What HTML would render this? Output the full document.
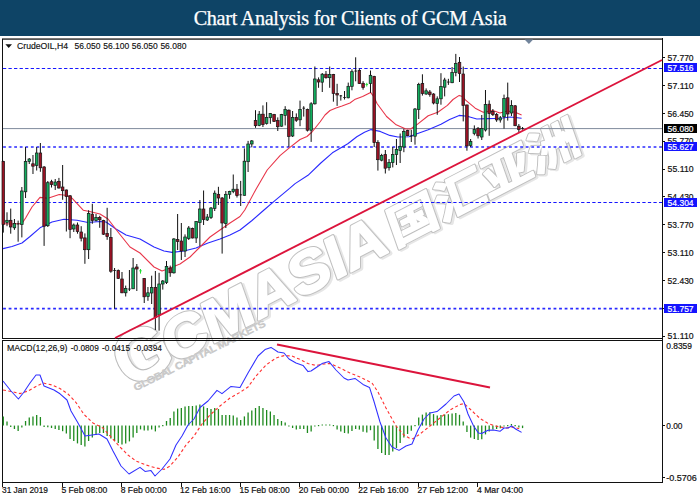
<!DOCTYPE html>
<html><head><meta charset="utf-8"><title>Chart Analysis for Clients of GCM Asia</title>
<style>
html,body{margin:0;padding:0;background:#fff;}
body{width:700px;height:500px;overflow:hidden;position:relative;font-family:"Liberation Sans","Noto Sans CJK SC",sans-serif;}
#hdr{position:absolute;left:0;top:0;width:700px;height:36.4px;background:#0e4466;color:#fff;font-family:"Liberation Serif",serif;font-size:20.2px;text-align:center;line-height:36px;letter-spacing:-0.3px;}
#hdr span{display:inline-block;position:relative;top:0px;-webkit-text-stroke:0.25px #fff;}
svg{position:absolute;left:0;top:0;}
.ax{font-family:"Liberation Sans",sans-serif;font-size:9px;fill:#111;stroke:#111;stroke-width:0.2px;}
.lb{font-family:"Liberation Sans",sans-serif;font-size:9px;fill:#fff;stroke:#fff;stroke-width:0.2px;}
.tt{font-family:"Liberation Sans",sans-serif;font-size:9px;fill:#111;stroke:#111;stroke-width:0.15px;}
</style></head><body>
<div id="hdr"><span>Chart Analysis for Clients of GCM Asia</span></div>
<svg width="700" height="500" viewBox="0 0 700 500">
<!-- watermark -->
<g id="wm" transform="translate(119,392) rotate(-27.4)" stroke-linejoin="round" font-family="'Liberation Sans','Noto Sans CJK SC',sans-serif" font-weight="bold">
<text x="11.8" y="3.5" font-size="72" fill="none" stroke="#e6e6e6" stroke-width="3.4" textLength="56" lengthAdjust="spacingAndGlyphs">G</text>
<text x="10" y="1.5" font-size="72" fill="none" stroke="#bcbcbc" stroke-width="3.4" textLength="56" lengthAdjust="spacingAndGlyphs">G</text>
<text x="10" y="1.5" font-size="72" fill="#fff" stroke="#fff" stroke-width="1.2" textLength="56" lengthAdjust="spacingAndGlyphs">G</text>
<g transform="skewX(-8)">
<g transform="translate(1.8,2)">
<text x="59" y="0" font-size="58" fill="none" stroke="#e6e6e6" stroke-width="3.8" textLength="246" lengthAdjust="spacingAndGlyphs">CMASIA</text>
<text x="311" y="-2" font-size="45" fill="none" stroke="#e6e6e6" stroke-width="3.2" textLength="212" lengthAdjust="spacingAndGlyphs">国汇亚洲</text>
</g>
<text x="59" y="0" font-size="58" fill="none" stroke="#c0c0c0" stroke-width="3.8" textLength="246" lengthAdjust="spacingAndGlyphs">CMASIA</text>
<text x="59" y="0" font-size="58" fill="#fff" stroke="#fff" stroke-width="1.8" textLength="246" lengthAdjust="spacingAndGlyphs">CMASIA</text>
<text x="311" y="-2" font-size="45" fill="none" stroke="#c0c0c0" stroke-width="3.2" textLength="212" lengthAdjust="spacingAndGlyphs">国汇亚洲</text>
<text x="311" y="-2" font-size="45" fill="#fff" stroke="#fff" stroke-width="1.4" textLength="212" lengthAdjust="spacingAndGlyphs">国汇亚洲</text>
</g>
</g>
<g transform="translate(135.8,391) rotate(-26.6)" font-family="'Liberation Sans',sans-serif">
<text x="0" y="0" font-size="9.6" stroke="#c9c9c9" stroke-width="0.8" fill="#f2f2f2" textLength="146" lengthAdjust="spacingAndGlyphs">GLOBAL CAPITAL MARKETS</text>
</g>
<!-- frames -->
<g shape-rendering="crispEdges" stroke="#111" stroke-width="1" fill="none">
<line x1="2.5" y1="38" x2="2.5" y2="338"/>
<line x1="2" y1="38.5" x2="663" y2="38.5" stroke="#777"/><line x1="3" y1="39.5" x2="662" y2="39.5" stroke="#555"/>
<line x1="662.5" y1="38" x2="662.5" y2="483"/>
<line x1="2" y1="338.5" x2="663" y2="338.5"/>
<line x1="2" y1="340.5" x2="663" y2="340.5"/>
<line x1="2.5" y1="340" x2="2.5" y2="483"/>
<line x1="2" y1="482.5" x2="663" y2="482.5"/>
</g>
<!-- h lines -->
<line x1="3" y1="128.6" x2="662" y2="128.6" stroke="#7f8b9c" stroke-width="1"/>
<g stroke="#1616ff" stroke-width="1.15" stroke-dasharray="3.3,2.26" fill="none">
<line x1="2.9" y1="68.5" x2="662" y2="68.5"/>
<line x1="2.9" y1="202.5" x2="662" y2="202.5"/>
</g>
<g stroke="#2a2aff" stroke-width="1.65" stroke-dasharray="2.8,2.76" fill="none">
<line x1="3.1" y1="147" x2="662" y2="147"/>
<line x1="3.1" y1="308.6" x2="662" y2="308.6"/>
</g>
<!-- MAs -->
<polyline points="3.0,248.6 12.0,246.5 22.0,243.0 30.0,236.5 40.0,227.8 52.0,222.0 64.0,219.3 77.0,220.3 88.0,222.5 100.0,221.5 106.0,222.0 116.0,229.0 126.0,235.0 140.0,239.0 154.0,247.0 164.0,251.0 172.0,252.4 184.0,251.0 196.0,248.0 208.0,243.0 220.0,239.0 230.0,235.0 240.0,230.0 252.0,220.5 264.0,210.0 275.2,200.4 289.6,188.4 295.1,183.6 308.0,175.3 320.8,163.0 332.4,152.8 347.8,143.8 356.8,136.7 364.5,132.2 371.0,129.6 380.2,131.4 389.8,135.4 397.8,137.0 409.0,136.7 417.0,133.8 428.2,129.8 441.0,124.2 449.6,119.4 459.2,115.4 467.2,116.2 476.8,119.0 488.0,118.6 500.8,118.3 510.4,117.0 521.6,118.3" fill="none" stroke="#2a2aff" stroke-width="1.1" stroke-linejoin="round"/>
<polyline points="3.0,223.8 12.0,224.0 22.0,223.5 25.6,218.0 32.0,207.0 40.0,197.4 48.0,198.2 59.2,194.5 67.2,195.5 72.0,198.2 83.2,210.2 89.6,211.5 100.0,214.0 108.0,219.0 118.0,232.0 130.0,247.0 140.0,253.0 154.0,267.0 162.0,271.0 170.0,268.0 180.0,264.0 190.0,257.0 200.0,247.0 210.0,237.0 220.0,230.0 230.0,223.0 240.0,216.5 244.8,210.0 256.0,189.2 267.2,170.0 280.0,155.6 289.6,147.6 300.0,139.5 307.0,136.5 312.0,132.0 320.0,122.0 325.0,115.0 330.0,110.5 336.0,108.0 342.0,106.0 350.0,103.0 354.6,99.6 362.6,96.4 370.6,92.4 374.0,97.0 377.0,103.5 386.6,116.5 396.2,124.8 405.8,129.0 410.6,129.0 417.0,124.6 428.2,115.8 437.8,112.2 447.4,105.4 453.0,99.5 459.2,95.4 462.5,96.5 465.6,100.2 475.2,108.2 483.2,112.2 492.8,110.6 500.0,113.0 507.2,111.0 515.2,112.2 521.6,115.0" fill="none" stroke="#e8364a" stroke-width="1.1" stroke-linejoin="round"/>
<!-- candles -->
<g>
<line x1="3.30" y1="160.8" x2="3.30" y2="232.6" stroke="#111" stroke-width="1"/>
<rect x="2.00" y="161.4" width="2.6" height="63.2" fill="#9a1224" stroke="#151515" stroke-width="0.7"/>
<line x1="7.01" y1="212.3" x2="7.01" y2="226.2" stroke="#111" stroke-width="1"/>
<rect x="5.71" y="220.3" width="2.6" height="2.2" fill="#12ad5e" stroke="#151515" stroke-width="0.7"/>
<line x1="10.72" y1="208.6" x2="10.72" y2="233.7" stroke="#111" stroke-width="1"/>
<rect x="9.42" y="220.3" width="2.6" height="6.7" fill="#9a1224" stroke="#151515" stroke-width="0.7"/>
<line x1="14.43" y1="219.0" x2="14.43" y2="229.9" stroke="#111" stroke-width="1"/>
<rect x="13.13" y="223.5" width="2.6" height="4.3" fill="#12ad5e" stroke="#151515" stroke-width="0.7"/>
<line x1="18.14" y1="220.6" x2="18.14" y2="241.7" stroke="#111" stroke-width="1"/>
<rect x="16.84" y="223.5" width="2.6" height="0.9" fill="#111"/>
<line x1="21.85" y1="187.0" x2="21.85" y2="237.4" stroke="#111" stroke-width="1"/>
<rect x="20.55" y="191.0" width="2.6" height="33.6" fill="#12ad5e" stroke="#151515" stroke-width="0.7"/>
<line x1="25.55" y1="147.0" x2="25.55" y2="198.0" stroke="#111" stroke-width="1"/>
<rect x="24.25" y="161.4" width="2.6" height="30.4" fill="#12ad5e" stroke="#151515" stroke-width="0.7"/>
<line x1="29.26" y1="158.0" x2="29.26" y2="164.0" stroke="#111" stroke-width="1"/>
<rect x="27.96" y="159.0" width="2.6" height="2.4" fill="#12ad5e" stroke="#151515" stroke-width="0.7"/>
<line x1="32.97" y1="155.0" x2="32.97" y2="174.0" stroke="#111" stroke-width="1"/>
<rect x="31.67" y="163.8" width="2.6" height="2.4" fill="#9a1224" stroke="#151515" stroke-width="0.7"/>
<line x1="36.68" y1="147.0" x2="36.68" y2="170.5" stroke="#111" stroke-width="1"/>
<rect x="35.38" y="153.0" width="2.6" height="12.4" fill="#12ad5e" stroke="#151515" stroke-width="0.7"/>
<line x1="40.39" y1="143.0" x2="40.39" y2="171.8" stroke="#111" stroke-width="1"/>
<rect x="39.09" y="153.0" width="2.6" height="14.8" fill="#9a1224" stroke="#151515" stroke-width="0.7"/>
<line x1="44.10" y1="166.0" x2="44.10" y2="245.9" stroke="#111" stroke-width="1"/>
<rect x="42.80" y="167.0" width="2.6" height="59.2" fill="#9a1224" stroke="#151515" stroke-width="0.7"/>
<line x1="47.81" y1="181.0" x2="47.81" y2="227.0" stroke="#111" stroke-width="1"/>
<rect x="46.51" y="182.7" width="2.6" height="43.0" fill="#12ad5e" stroke="#151515" stroke-width="0.7"/>
<line x1="51.52" y1="179.8" x2="51.52" y2="187.5" stroke="#111" stroke-width="1"/>
<rect x="50.22" y="181.7" width="2.6" height="2.9" fill="#9a1224" stroke="#151515" stroke-width="0.7"/>
<line x1="55.23" y1="179.0" x2="55.23" y2="190.0" stroke="#111" stroke-width="1"/>
<rect x="53.93" y="182.0" width="2.6" height="3.4" fill="#12ad5e" stroke="#151515" stroke-width="0.7"/>
<line x1="58.93" y1="177.9" x2="58.93" y2="188.6" stroke="#111" stroke-width="1"/>
<rect x="57.63" y="181.4" width="2.6" height="6.6" fill="#9a1224" stroke="#151515" stroke-width="0.7"/>
<line x1="62.64" y1="165.0" x2="62.64" y2="199.8" stroke="#111" stroke-width="1"/>
<rect x="61.34" y="187.0" width="2.6" height="3.7" fill="#9a1224" stroke="#151515" stroke-width="0.7"/>
<line x1="66.35" y1="189.5" x2="66.35" y2="231.5" stroke="#111" stroke-width="1"/>
<rect x="65.05" y="190.0" width="2.6" height="6.6" fill="#9a1224" stroke="#151515" stroke-width="0.7"/>
<line x1="70.06" y1="195.0" x2="70.06" y2="238.2" stroke="#111" stroke-width="1"/>
<rect x="68.76" y="195.8" width="2.6" height="33.6" fill="#9a1224" stroke="#151515" stroke-width="0.7"/>
<line x1="73.77" y1="223.5" x2="73.77" y2="232.0" stroke="#111" stroke-width="1"/>
<rect x="72.47" y="225.0" width="2.6" height="4.0" fill="#12ad5e" stroke="#151515" stroke-width="0.7"/>
<line x1="77.48" y1="222.5" x2="77.48" y2="233.7" stroke="#111" stroke-width="1"/>
<rect x="76.18" y="225.0" width="2.6" height="6.5" fill="#9a1224" stroke="#151515" stroke-width="0.7"/>
<line x1="81.19" y1="226.2" x2="81.19" y2="241.4" stroke="#111" stroke-width="1"/>
<rect x="79.89" y="232.0" width="2.6" height="6.2" fill="#9a1224" stroke="#151515" stroke-width="0.7"/>
<line x1="84.90" y1="233.4" x2="84.90" y2="263.8" stroke="#111" stroke-width="1"/>
<rect x="83.60" y="237.9" width="2.6" height="11.8" fill="#9a1224" stroke="#151515" stroke-width="0.7"/>
<line x1="88.61" y1="210.2" x2="88.61" y2="259.0" stroke="#111" stroke-width="1"/>
<rect x="87.31" y="213.4" width="2.6" height="36.3" fill="#12ad5e" stroke="#151515" stroke-width="0.7"/>
<line x1="92.32" y1="203.8" x2="92.32" y2="223.8" stroke="#111" stroke-width="1"/>
<rect x="91.02" y="214.2" width="2.6" height="6.4" fill="#9a1224" stroke="#151515" stroke-width="0.7"/>
<line x1="96.03" y1="214.0" x2="96.03" y2="221.4" stroke="#111" stroke-width="1"/>
<rect x="94.73" y="217.4" width="2.6" height="3.2" fill="#12ad5e" stroke="#151515" stroke-width="0.7"/>
<line x1="99.73" y1="215.8" x2="99.73" y2="227.8" stroke="#111" stroke-width="1"/>
<rect x="98.43" y="217.4" width="2.6" height="2.4" fill="#9a1224" stroke="#151515" stroke-width="0.7"/>
<line x1="103.44" y1="219.8" x2="103.44" y2="235.0" stroke="#111" stroke-width="1"/>
<rect x="102.14" y="220.6" width="2.6" height="13.6" fill="#9a1224" stroke="#151515" stroke-width="0.7"/>
<line x1="107.15" y1="207.8" x2="107.15" y2="239.8" stroke="#111" stroke-width="1"/>
<rect x="105.85" y="233.4" width="2.6" height="3.2" fill="#9a1224" stroke="#151515" stroke-width="0.7"/>
<line x1="110.86" y1="228.0" x2="110.86" y2="272.8" stroke="#111" stroke-width="1"/>
<rect x="109.56" y="237.4" width="2.6" height="33.8" fill="#9a1224" stroke="#151515" stroke-width="0.7"/>
<line x1="114.57" y1="268.0" x2="114.57" y2="308.8" stroke="#111" stroke-width="1"/>
<rect x="113.27" y="270.0" width="2.6" height="0.9" fill="#111"/>
<line x1="118.28" y1="269.5" x2="118.28" y2="279.0" stroke="#111" stroke-width="1"/>
<rect x="116.98" y="270.4" width="2.6" height="8.0" fill="#9a1224" stroke="#151515" stroke-width="0.7"/>
<line x1="121.99" y1="272.0" x2="121.99" y2="293.2" stroke="#111" stroke-width="1"/>
<rect x="120.69" y="279.0" width="2.6" height="13.8" fill="#9a1224" stroke="#151515" stroke-width="0.7"/>
<line x1="125.70" y1="285.6" x2="125.70" y2="296.5" stroke="#111" stroke-width="1"/>
<rect x="124.40" y="288.5" width="2.6" height="4.3" fill="#12ad5e" stroke="#151515" stroke-width="0.7"/>
<line x1="129.41" y1="270.0" x2="129.41" y2="291.0" stroke="#111" stroke-width="1"/>
<rect x="128.11" y="288.6" width="2.6" height="0.9" fill="#111"/>
<line x1="133.12" y1="258.0" x2="133.12" y2="289.0" stroke="#111" stroke-width="1"/>
<rect x="131.81" y="268.0" width="2.6" height="20.8" fill="#12ad5e" stroke="#151515" stroke-width="0.7"/>
<line x1="136.82" y1="264.0" x2="136.82" y2="291.0" stroke="#111" stroke-width="1"/>
<rect x="135.52" y="267.0" width="2.6" height="2.0" fill="#9a1224" stroke="#151515" stroke-width="0.7"/>
<line x1="140.53" y1="269.0" x2="140.53" y2="273.6" stroke="#22dd33" stroke-width="1"/>
<rect x="139.23" y="270.4" width="2.6" height="0.9" fill="#22dd33"/>
<line x1="144.24" y1="278.0" x2="144.24" y2="303.0" stroke="#111" stroke-width="1"/>
<rect x="142.94" y="278.4" width="2.6" height="18.4" fill="#9a1224" stroke="#151515" stroke-width="0.7"/>
<line x1="147.95" y1="287.0" x2="147.95" y2="300.8" stroke="#111" stroke-width="1"/>
<rect x="146.65" y="292.8" width="2.6" height="3.7" fill="#12ad5e" stroke="#151515" stroke-width="0.7"/>
<line x1="151.66" y1="275.7" x2="151.66" y2="304.0" stroke="#111" stroke-width="1"/>
<rect x="150.36" y="287.5" width="2.6" height="5.5" fill="#12ad5e" stroke="#151515" stroke-width="0.7"/>
<line x1="155.37" y1="271.0" x2="155.37" y2="330.0" stroke="#111" stroke-width="1"/>
<rect x="154.07" y="287.5" width="2.6" height="30.1" fill="#9a1224" stroke="#151515" stroke-width="0.7"/>
<line x1="159.08" y1="272.8" x2="159.08" y2="330.7" stroke="#111" stroke-width="1"/>
<rect x="157.78" y="284.0" width="2.6" height="31.0" fill="#12ad5e" stroke="#151515" stroke-width="0.7"/>
<line x1="162.79" y1="280.0" x2="162.79" y2="289.6" stroke="#111" stroke-width="1"/>
<rect x="161.49" y="281.0" width="2.6" height="3.0" fill="#12ad5e" stroke="#151515" stroke-width="0.7"/>
<line x1="166.50" y1="261.0" x2="166.50" y2="284.0" stroke="#111" stroke-width="1"/>
<rect x="165.20" y="266.4" width="2.6" height="16.0" fill="#12ad5e" stroke="#151515" stroke-width="0.7"/>
<line x1="170.21" y1="265.6" x2="170.21" y2="276.8" stroke="#111" stroke-width="1"/>
<rect x="168.91" y="268.0" width="2.6" height="4.8" fill="#9a1224" stroke="#151515" stroke-width="0.7"/>
<line x1="173.91" y1="238.0" x2="173.91" y2="273.6" stroke="#111" stroke-width="1"/>
<rect x="172.61" y="239.0" width="2.6" height="33.8" fill="#12ad5e" stroke="#151515" stroke-width="0.7"/>
<line x1="177.62" y1="214.0" x2="177.62" y2="250.0" stroke="#111" stroke-width="1"/>
<rect x="176.32" y="239.6" width="2.6" height="2.0" fill="#9a1224" stroke="#151515" stroke-width="0.7"/>
<line x1="181.33" y1="223.0" x2="181.33" y2="260.0" stroke="#111" stroke-width="1"/>
<rect x="180.03" y="241.0" width="2.6" height="10.0" fill="#9a1224" stroke="#151515" stroke-width="0.7"/>
<line x1="185.04" y1="234.4" x2="185.04" y2="257.0" stroke="#111" stroke-width="1"/>
<rect x="183.74" y="237.0" width="2.6" height="14.0" fill="#12ad5e" stroke="#151515" stroke-width="0.7"/>
<line x1="188.75" y1="226.0" x2="188.75" y2="240.0" stroke="#111" stroke-width="1"/>
<rect x="187.45" y="228.0" width="2.6" height="10.4" fill="#12ad5e" stroke="#151515" stroke-width="0.7"/>
<line x1="192.46" y1="227.6" x2="192.46" y2="238.4" stroke="#111" stroke-width="1"/>
<rect x="191.16" y="228.4" width="2.6" height="9.6" fill="#9a1224" stroke="#151515" stroke-width="0.7"/>
<line x1="196.17" y1="221.0" x2="196.17" y2="243.0" stroke="#111" stroke-width="1"/>
<rect x="194.87" y="221.6" width="2.6" height="16.4" fill="#12ad5e" stroke="#151515" stroke-width="0.7"/>
<line x1="199.88" y1="200.0" x2="199.88" y2="246.0" stroke="#111" stroke-width="1"/>
<rect x="198.58" y="209.0" width="2.6" height="13.4" fill="#12ad5e" stroke="#151515" stroke-width="0.7"/>
<line x1="203.59" y1="190.5" x2="203.59" y2="225.0" stroke="#111" stroke-width="1"/>
<rect x="202.29" y="209.0" width="2.6" height="10.6" fill="#9a1224" stroke="#151515" stroke-width="0.7"/>
<line x1="207.30" y1="214.0" x2="207.30" y2="221.0" stroke="#111" stroke-width="1"/>
<rect x="206.00" y="217.0" width="2.6" height="3.0" fill="#12ad5e" stroke="#151515" stroke-width="0.7"/>
<line x1="211.00" y1="207.0" x2="211.00" y2="219.0" stroke="#111" stroke-width="1"/>
<rect x="209.70" y="208.0" width="2.6" height="9.6" fill="#12ad5e" stroke="#151515" stroke-width="0.7"/>
<line x1="214.71" y1="190.5" x2="214.71" y2="211.0" stroke="#111" stroke-width="1"/>
<rect x="213.41" y="193.2" width="2.6" height="15.2" fill="#12ad5e" stroke="#151515" stroke-width="0.7"/>
<line x1="218.42" y1="186.8" x2="218.42" y2="205.0" stroke="#111" stroke-width="1"/>
<rect x="217.12" y="194.3" width="2.6" height="3.7" fill="#9a1224" stroke="#151515" stroke-width="0.7"/>
<line x1="222.13" y1="197.0" x2="222.13" y2="253.6" stroke="#111" stroke-width="1"/>
<rect x="220.83" y="198.0" width="2.6" height="25.0" fill="#9a1224" stroke="#151515" stroke-width="0.7"/>
<line x1="225.84" y1="191.0" x2="225.84" y2="228.0" stroke="#111" stroke-width="1"/>
<rect x="224.54" y="194.3" width="2.6" height="29.3" fill="#12ad5e" stroke="#151515" stroke-width="0.7"/>
<line x1="229.55" y1="190.8" x2="229.55" y2="198.8" stroke="#111" stroke-width="1"/>
<rect x="228.25" y="191.6" width="2.6" height="2.7" fill="#12ad5e" stroke="#151515" stroke-width="0.7"/>
<line x1="233.26" y1="174.5" x2="233.26" y2="193.2" stroke="#111" stroke-width="1"/>
<rect x="231.96" y="189.2" width="2.6" height="2.4" fill="#12ad5e" stroke="#151515" stroke-width="0.7"/>
<line x1="236.97" y1="184.0" x2="236.97" y2="197.5" stroke="#111" stroke-width="1"/>
<rect x="235.67" y="189.2" width="2.6" height="6.4" fill="#9a1224" stroke="#151515" stroke-width="0.7"/>
<line x1="240.68" y1="180.9" x2="240.68" y2="206.0" stroke="#111" stroke-width="1"/>
<rect x="239.38" y="194.4" width="2.6" height="0.9" fill="#111"/>
<line x1="244.39" y1="148.4" x2="244.39" y2="195.6" stroke="#111" stroke-width="1"/>
<rect x="243.09" y="161.2" width="2.6" height="34.1" fill="#12ad5e" stroke="#151515" stroke-width="0.7"/>
<line x1="248.09" y1="140.9" x2="248.09" y2="172.0" stroke="#111" stroke-width="1"/>
<rect x="246.79" y="144.0" width="2.6" height="17.7" fill="#12ad5e" stroke="#151515" stroke-width="0.7"/>
<line x1="251.80" y1="140.0" x2="251.80" y2="147.3" stroke="#111" stroke-width="1"/>
<rect x="250.50" y="140.9" width="2.6" height="3.1" fill="#12ad5e" stroke="#151515" stroke-width="0.7"/>
<line x1="255.51" y1="110.2" x2="255.51" y2="127.8" stroke="#111" stroke-width="1"/>
<rect x="254.21" y="120.6" width="2.6" height="5.1" fill="#9a1224" stroke="#151515" stroke-width="0.7"/>
<line x1="259.22" y1="111.0" x2="259.22" y2="126.2" stroke="#111" stroke-width="1"/>
<rect x="257.92" y="114.2" width="2.6" height="11.2" fill="#12ad5e" stroke="#151515" stroke-width="0.7"/>
<line x1="262.93" y1="105.4" x2="262.93" y2="127.0" stroke="#111" stroke-width="1"/>
<rect x="261.63" y="114.2" width="2.6" height="10.4" fill="#9a1224" stroke="#151515" stroke-width="0.7"/>
<line x1="266.64" y1="102.2" x2="266.64" y2="124.6" stroke="#111" stroke-width="1"/>
<rect x="265.34" y="117.4" width="2.6" height="6.1" fill="#12ad5e" stroke="#151515" stroke-width="0.7"/>
<line x1="270.35" y1="113.0" x2="270.35" y2="123.8" stroke="#111" stroke-width="1"/>
<rect x="269.05" y="113.4" width="2.6" height="4.3" fill="#12ad5e" stroke="#151515" stroke-width="0.7"/>
<line x1="274.06" y1="113.9" x2="274.06" y2="122.0" stroke="#111" stroke-width="1"/>
<rect x="272.76" y="114.5" width="2.6" height="6.9" fill="#9a1224" stroke="#151515" stroke-width="0.7"/>
<line x1="277.77" y1="117.4" x2="277.77" y2="131.0" stroke="#111" stroke-width="1"/>
<rect x="276.47" y="120.6" width="2.6" height="6.1" fill="#9a1224" stroke="#151515" stroke-width="0.7"/>
<line x1="281.48" y1="113.9" x2="281.48" y2="126.7" stroke="#111" stroke-width="1"/>
<rect x="280.18" y="114.5" width="2.6" height="11.7" fill="#12ad5e" stroke="#151515" stroke-width="0.7"/>
<line x1="285.18" y1="106.2" x2="285.18" y2="125.4" stroke="#111" stroke-width="1"/>
<rect x="283.88" y="109.4" width="2.6" height="6.1" fill="#12ad5e" stroke="#151515" stroke-width="0.7"/>
<line x1="288.89" y1="109.4" x2="288.89" y2="146.8" stroke="#111" stroke-width="1"/>
<rect x="287.59" y="110.2" width="2.6" height="26.2" fill="#9a1224" stroke="#151515" stroke-width="0.7"/>
<line x1="292.60" y1="111.0" x2="292.60" y2="137.0" stroke="#111" stroke-width="1"/>
<rect x="291.30" y="117.4" width="2.6" height="18.6" fill="#12ad5e" stroke="#151515" stroke-width="0.7"/>
<line x1="296.31" y1="113.4" x2="296.31" y2="121.9" stroke="#111" stroke-width="1"/>
<rect x="295.01" y="117.4" width="2.6" height="2.9" fill="#9a1224" stroke="#151515" stroke-width="0.7"/>
<line x1="300.02" y1="100.6" x2="300.02" y2="126.2" stroke="#111" stroke-width="1"/>
<rect x="298.72" y="109.4" width="2.6" height="10.4" fill="#12ad5e" stroke="#151515" stroke-width="0.7"/>
<line x1="303.73" y1="106.2" x2="303.73" y2="116.6" stroke="#111" stroke-width="1"/>
<rect x="302.43" y="107.7" width="2.6" height="0.9" fill="#111"/>
<line x1="307.44" y1="108.6" x2="307.44" y2="131.5" stroke="#111" stroke-width="1"/>
<rect x="306.14" y="109.4" width="2.6" height="20.8" fill="#9a1224" stroke="#151515" stroke-width="0.7"/>
<line x1="311.15" y1="102.2" x2="311.15" y2="141.9" stroke="#111" stroke-width="1"/>
<rect x="309.85" y="103.8" width="2.6" height="26.4" fill="#12ad5e" stroke="#151515" stroke-width="0.7"/>
<line x1="314.86" y1="66.5" x2="314.86" y2="104.6" stroke="#111" stroke-width="1"/>
<rect x="313.56" y="79.0" width="2.6" height="24.8" fill="#12ad5e" stroke="#151515" stroke-width="0.7"/>
<line x1="318.56" y1="77.4" x2="318.56" y2="87.8" stroke="#111" stroke-width="1"/>
<rect x="317.26" y="79.8" width="2.6" height="2.2" fill="#9a1224" stroke="#151515" stroke-width="0.7"/>
<line x1="322.27" y1="73.0" x2="322.27" y2="92.0" stroke="#111" stroke-width="1"/>
<rect x="320.97" y="74.2" width="2.6" height="8.0" fill="#12ad5e" stroke="#151515" stroke-width="0.7"/>
<line x1="325.98" y1="71.0" x2="325.98" y2="78.7" stroke="#111" stroke-width="1"/>
<rect x="324.68" y="74.2" width="2.6" height="3.5" fill="#9a1224" stroke="#151515" stroke-width="0.7"/>
<line x1="329.69" y1="66.5" x2="329.69" y2="87.8" stroke="#111" stroke-width="1"/>
<rect x="328.39" y="74.5" width="2.6" height="3.2" fill="#12ad5e" stroke="#151515" stroke-width="0.7"/>
<line x1="333.40" y1="73.9" x2="333.40" y2="101.7" stroke="#111" stroke-width="1"/>
<rect x="332.10" y="74.5" width="2.6" height="18.9" fill="#9a1224" stroke="#151515" stroke-width="0.7"/>
<line x1="337.11" y1="83.8" x2="337.11" y2="105.9" stroke="#111" stroke-width="1"/>
<rect x="335.81" y="93.4" width="2.6" height="1.6" fill="#9a1224" stroke="#151515" stroke-width="0.7"/>
<line x1="340.82" y1="95.0" x2="340.82" y2="100.6" stroke="#111" stroke-width="1"/>
<rect x="339.52" y="95.4" width="2.6" height="0.9" fill="#111"/>
<line x1="344.53" y1="91.0" x2="344.53" y2="99.5" stroke="#111" stroke-width="1"/>
<rect x="343.23" y="97.0" width="2.6" height="0.9" fill="#111"/>
<line x1="348.24" y1="82.6" x2="348.24" y2="98.3" stroke="#111" stroke-width="1"/>
<rect x="346.94" y="86.3" width="2.6" height="11.5" fill="#12ad5e" stroke="#151515" stroke-width="0.7"/>
<line x1="351.95" y1="69.3" x2="351.95" y2="90.3" stroke="#111" stroke-width="1"/>
<rect x="350.65" y="71.7" width="2.6" height="14.6" fill="#12ad5e" stroke="#151515" stroke-width="0.7"/>
<line x1="355.66" y1="57.3" x2="355.66" y2="81.3" stroke="#111" stroke-width="1"/>
<rect x="354.36" y="70.6" width="2.6" height="0.9" fill="#111"/>
<line x1="359.36" y1="68.4" x2="359.36" y2="84.0" stroke="#111" stroke-width="1"/>
<rect x="358.06" y="70.5" width="2.6" height="13.1" fill="#9a1224" stroke="#151515" stroke-width="0.7"/>
<line x1="363.07" y1="81.2" x2="363.07" y2="89.7" stroke="#111" stroke-width="1"/>
<rect x="361.77" y="83.3" width="2.6" height="4.3" fill="#9a1224" stroke="#151515" stroke-width="0.7"/>
<line x1="366.78" y1="82.8" x2="366.78" y2="86.5" stroke="#22dd33" stroke-width="1"/>
<rect x="365.48" y="84.0" width="2.6" height="0.9" fill="#22dd33"/>
<line x1="370.49" y1="70.5" x2="370.49" y2="92.9" stroke="#111" stroke-width="1"/>
<rect x="369.19" y="75.3" width="2.6" height="8.3" fill="#12ad5e" stroke="#151515" stroke-width="0.7"/>
<line x1="374.20" y1="75.8" x2="374.20" y2="147.0" stroke="#111" stroke-width="1"/>
<rect x="372.90" y="76.4" width="2.6" height="66.2" fill="#9a1224" stroke="#151515" stroke-width="0.7"/>
<line x1="377.91" y1="140.2" x2="377.91" y2="170.6" stroke="#111" stroke-width="1"/>
<rect x="376.61" y="142.6" width="2.6" height="17.1" fill="#9a1224" stroke="#151515" stroke-width="0.7"/>
<line x1="381.62" y1="153.8" x2="381.62" y2="161.3" stroke="#111" stroke-width="1"/>
<rect x="380.32" y="155.4" width="2.6" height="4.8" fill="#12ad5e" stroke="#151515" stroke-width="0.7"/>
<line x1="385.33" y1="150.0" x2="385.33" y2="173.5" stroke="#111" stroke-width="1"/>
<rect x="384.03" y="154.6" width="2.6" height="13.6" fill="#9a1224" stroke="#151515" stroke-width="0.7"/>
<line x1="389.04" y1="159.0" x2="389.04" y2="170.6" stroke="#111" stroke-width="1"/>
<rect x="387.74" y="162.6" width="2.6" height="5.1" fill="#12ad5e" stroke="#151515" stroke-width="0.7"/>
<line x1="392.75" y1="147.0" x2="392.75" y2="167.4" stroke="#111" stroke-width="1"/>
<rect x="391.44" y="154.6" width="2.6" height="8.0" fill="#12ad5e" stroke="#151515" stroke-width="0.7"/>
<line x1="396.45" y1="139.0" x2="396.45" y2="165.0" stroke="#111" stroke-width="1"/>
<rect x="395.15" y="149.5" width="2.6" height="5.1" fill="#12ad5e" stroke="#151515" stroke-width="0.7"/>
<line x1="400.16" y1="133.5" x2="400.16" y2="163.0" stroke="#111" stroke-width="1"/>
<rect x="398.86" y="146.3" width="2.6" height="4.3" fill="#12ad5e" stroke="#151515" stroke-width="0.7"/>
<line x1="403.87" y1="128.7" x2="403.87" y2="152.2" stroke="#111" stroke-width="1"/>
<rect x="402.57" y="131.4" width="2.6" height="15.6" fill="#12ad5e" stroke="#151515" stroke-width="0.7"/>
<line x1="407.58" y1="129.8" x2="407.58" y2="136.2" stroke="#111" stroke-width="1"/>
<rect x="406.28" y="130.6" width="2.6" height="5.1" fill="#9a1224" stroke="#151515" stroke-width="0.7"/>
<line x1="411.29" y1="129.8" x2="411.29" y2="142.0" stroke="#111" stroke-width="1"/>
<rect x="409.99" y="135.6" width="2.6" height="0.9" fill="#111"/>
<line x1="415.00" y1="108.0" x2="415.00" y2="144.7" stroke="#111" stroke-width="1"/>
<rect x="413.70" y="109.0" width="2.6" height="27.2" fill="#12ad5e" stroke="#151515" stroke-width="0.7"/>
<line x1="418.71" y1="82.8" x2="418.71" y2="119.0" stroke="#111" stroke-width="1"/>
<rect x="417.41" y="84.4" width="2.6" height="25.1" fill="#12ad5e" stroke="#151515" stroke-width="0.7"/>
<line x1="422.42" y1="74.3" x2="422.42" y2="95.6" stroke="#111" stroke-width="1"/>
<rect x="421.12" y="83.6" width="2.6" height="9.9" fill="#9a1224" stroke="#151515" stroke-width="0.7"/>
<line x1="426.13" y1="88.4" x2="426.13" y2="94.8" stroke="#111" stroke-width="1"/>
<rect x="424.83" y="90.8" width="2.6" height="3.2" fill="#12ad5e" stroke="#151515" stroke-width="0.7"/>
<line x1="429.84" y1="90.0" x2="429.84" y2="96.7" stroke="#111" stroke-width="1"/>
<rect x="428.54" y="92.0" width="2.6" height="2.5" fill="#9a1224" stroke="#151515" stroke-width="0.7"/>
<line x1="433.54" y1="93.2" x2="433.54" y2="104.4" stroke="#111" stroke-width="1"/>
<rect x="432.24" y="94.0" width="2.6" height="9.0" fill="#9a1224" stroke="#151515" stroke-width="0.7"/>
<line x1="437.25" y1="96.4" x2="437.25" y2="114.8" stroke="#111" stroke-width="1"/>
<rect x="435.95" y="98.8" width="2.6" height="4.8" fill="#12ad5e" stroke="#151515" stroke-width="0.7"/>
<line x1="440.96" y1="73.2" x2="440.96" y2="104.7" stroke="#111" stroke-width="1"/>
<rect x="439.66" y="86.5" width="2.6" height="12.3" fill="#12ad5e" stroke="#151515" stroke-width="0.7"/>
<line x1="444.67" y1="77.8" x2="444.67" y2="96.4" stroke="#111" stroke-width="1"/>
<rect x="443.37" y="80.0" width="2.6" height="7.2" fill="#12ad5e" stroke="#151515" stroke-width="0.7"/>
<line x1="448.38" y1="78.8" x2="448.38" y2="84.9" stroke="#111" stroke-width="1"/>
<rect x="447.08" y="81.6" width="2.6" height="0.9" fill="#111"/>
<line x1="452.09" y1="67.0" x2="452.09" y2="83.2" stroke="#111" stroke-width="1"/>
<rect x="450.79" y="72.6" width="2.6" height="10.1" fill="#12ad5e" stroke="#151515" stroke-width="0.7"/>
<line x1="455.80" y1="53.9" x2="455.80" y2="76.3" stroke="#111" stroke-width="1"/>
<rect x="454.50" y="63.5" width="2.6" height="9.0" fill="#12ad5e" stroke="#151515" stroke-width="0.7"/>
<line x1="459.51" y1="57.0" x2="459.51" y2="82.0" stroke="#111" stroke-width="1"/>
<rect x="458.21" y="62.3" width="2.6" height="11.2" fill="#9a1224" stroke="#151515" stroke-width="0.7"/>
<line x1="463.22" y1="66.6" x2="463.22" y2="121.4" stroke="#111" stroke-width="1"/>
<rect x="461.92" y="74.0" width="2.6" height="31.5" fill="#9a1224" stroke="#151515" stroke-width="0.7"/>
<line x1="466.93" y1="104.5" x2="466.93" y2="150.7" stroke="#111" stroke-width="1"/>
<rect x="465.62" y="105.0" width="2.6" height="40.9" fill="#9a1224" stroke="#151515" stroke-width="0.7"/>
<line x1="470.63" y1="139.0" x2="470.63" y2="147.0" stroke="#111" stroke-width="1"/>
<rect x="469.33" y="141.4" width="2.6" height="4.0" fill="#12ad5e" stroke="#151515" stroke-width="0.7"/>
<line x1="474.34" y1="125.4" x2="474.34" y2="135.3" stroke="#111" stroke-width="1"/>
<rect x="473.04" y="129.4" width="2.6" height="4.0" fill="#12ad5e" stroke="#151515" stroke-width="0.7"/>
<line x1="478.05" y1="127.0" x2="478.05" y2="138.5" stroke="#111" stroke-width="1"/>
<rect x="476.75" y="128.3" width="2.6" height="7.5" fill="#9a1224" stroke="#151515" stroke-width="0.7"/>
<line x1="481.76" y1="115.0" x2="481.76" y2="140.0" stroke="#111" stroke-width="1"/>
<rect x="480.46" y="128.6" width="2.6" height="8.4" fill="#12ad5e" stroke="#151515" stroke-width="0.7"/>
<line x1="485.47" y1="90.0" x2="485.47" y2="131.5" stroke="#111" stroke-width="1"/>
<rect x="484.17" y="104.6" width="2.6" height="25.4" fill="#12ad5e" stroke="#151515" stroke-width="0.7"/>
<line x1="489.18" y1="100.4" x2="489.18" y2="135.8" stroke="#111" stroke-width="1"/>
<rect x="487.88" y="104.2" width="2.6" height="9.3" fill="#9a1224" stroke="#151515" stroke-width="0.7"/>
<line x1="492.89" y1="109.0" x2="492.89" y2="116.0" stroke="#111" stroke-width="1"/>
<rect x="491.59" y="111.4" width="2.6" height="3.2" fill="#9a1224" stroke="#151515" stroke-width="0.7"/>
<line x1="496.60" y1="113.0" x2="496.60" y2="121.8" stroke="#111" stroke-width="1"/>
<rect x="495.30" y="114.6" width="2.6" height="5.3" fill="#9a1224" stroke="#151515" stroke-width="0.7"/>
<line x1="500.31" y1="116.0" x2="500.31" y2="122.6" stroke="#111" stroke-width="1"/>
<rect x="499.01" y="117.8" width="2.6" height="2.2" fill="#12ad5e" stroke="#151515" stroke-width="0.7"/>
<line x1="504.02" y1="94.6" x2="504.02" y2="128.6" stroke="#111" stroke-width="1"/>
<rect x="502.72" y="98.6" width="2.6" height="18.2" fill="#12ad5e" stroke="#151515" stroke-width="0.7"/>
<line x1="507.72" y1="82.6" x2="507.72" y2="120.6" stroke="#111" stroke-width="1"/>
<rect x="506.42" y="97.8" width="2.6" height="16.2" fill="#9a1224" stroke="#151515" stroke-width="0.7"/>
<line x1="511.43" y1="100.2" x2="511.43" y2="116.0" stroke="#111" stroke-width="1"/>
<rect x="510.13" y="105.5" width="2.6" height="7.5" fill="#12ad5e" stroke="#151515" stroke-width="0.7"/>
<line x1="515.14" y1="105.0" x2="515.14" y2="126.2" stroke="#111" stroke-width="1"/>
<rect x="513.84" y="105.8" width="2.6" height="19.9" fill="#9a1224" stroke="#151515" stroke-width="0.7"/>
<line x1="518.85" y1="124.0" x2="518.85" y2="132.0" stroke="#111" stroke-width="1"/>
<rect x="517.55" y="126.2" width="2.6" height="3.2" fill="#9a1224" stroke="#151515" stroke-width="0.7"/>
<line x1="522.56" y1="127.0" x2="522.56" y2="129.6" stroke="#111" stroke-width="1"/>
<rect x="521.26" y="128.2" width="2.6" height="0.9" fill="#111"/>
</g>
<!-- trendline -->
<line x1="115" y1="338" x2="662" y2="60" stroke="#dc143c" stroke-width="1.9"/>
<!-- macd -->
<g stroke="#1e8a1e" stroke-width="1.3">
<line x1="3.30" y1="416.4" x2="3.30" y2="425.6"/>
<line x1="7.01" y1="421.6" x2="7.01" y2="425.6"/>
<line x1="10.72" y1="425.6" x2="10.72" y2="427.0"/>
<line x1="14.43" y1="425.6" x2="14.43" y2="429.0"/>
<line x1="18.14" y1="425.6" x2="18.14" y2="431.0"/>
<line x1="21.85" y1="425.6" x2="21.85" y2="427.6"/>
<line x1="25.55" y1="421.0" x2="25.55" y2="425.6"/>
<line x1="29.26" y1="417.6" x2="29.26" y2="425.6"/>
<line x1="32.97" y1="416.6" x2="32.97" y2="425.6"/>
<line x1="36.68" y1="415.0" x2="36.68" y2="425.6"/>
<line x1="40.39" y1="417.0" x2="40.39" y2="425.6"/>
<line x1="44.10" y1="425.6" x2="44.10" y2="427.0"/>
<line x1="47.81" y1="425.6" x2="47.81" y2="427.2"/>
<line x1="51.52" y1="425.6" x2="51.52" y2="428.0"/>
<line x1="55.23" y1="425.6" x2="55.23" y2="429.0"/>
<line x1="58.93" y1="425.6" x2="58.93" y2="430.0"/>
<line x1="62.64" y1="425.6" x2="62.64" y2="431.2"/>
<line x1="66.35" y1="425.6" x2="66.35" y2="433.4"/>
<line x1="70.06" y1="425.6" x2="70.06" y2="439.0"/>
<line x1="73.77" y1="425.6" x2="73.77" y2="441.0"/>
<line x1="77.48" y1="425.6" x2="77.48" y2="443.4"/>
<line x1="81.19" y1="425.6" x2="81.19" y2="445.0"/>
<line x1="84.90" y1="425.6" x2="84.90" y2="446.6"/>
<line x1="88.61" y1="425.6" x2="88.61" y2="441.0"/>
<line x1="92.32" y1="425.6" x2="92.32" y2="437.4"/>
<line x1="96.03" y1="425.6" x2="96.03" y2="435.0"/>
<line x1="99.73" y1="425.6" x2="99.73" y2="433.0"/>
<line x1="103.44" y1="425.6" x2="103.44" y2="433.0"/>
<line x1="107.15" y1="425.6" x2="107.15" y2="436.0"/>
<line x1="110.86" y1="425.6" x2="110.86" y2="438.6"/>
<line x1="114.57" y1="425.6" x2="114.57" y2="441.0"/>
<line x1="118.28" y1="425.6" x2="118.28" y2="443.0"/>
<line x1="121.99" y1="425.6" x2="121.99" y2="444.4"/>
<line x1="125.70" y1="425.6" x2="125.70" y2="443.4"/>
<line x1="129.41" y1="425.6" x2="129.41" y2="441.4"/>
<line x1="133.12" y1="425.6" x2="133.12" y2="437.4"/>
<line x1="136.82" y1="425.6" x2="136.82" y2="433.0"/>
<line x1="140.53" y1="425.6" x2="140.53" y2="429.4"/>
<line x1="144.24" y1="425.6" x2="144.24" y2="430.6"/>
<line x1="147.95" y1="425.6" x2="147.95" y2="430.6"/>
<line x1="151.66" y1="425.6" x2="151.66" y2="429.4"/>
<line x1="155.37" y1="425.6" x2="155.37" y2="431.4"/>
<line x1="159.08" y1="425.6" x2="159.08" y2="427.4"/>
<line x1="162.79" y1="425.0" x2="162.79" y2="426.2"/>
<line x1="166.50" y1="421.0" x2="166.50" y2="425.6"/>
<line x1="170.21" y1="418.0" x2="170.21" y2="425.6"/>
<line x1="173.91" y1="411.4" x2="173.91" y2="425.6"/>
<line x1="177.62" y1="408.6" x2="177.62" y2="425.6"/>
<line x1="181.33" y1="408.0" x2="181.33" y2="425.6"/>
<line x1="185.04" y1="406.6" x2="185.04" y2="425.6"/>
<line x1="188.75" y1="406.0" x2="188.75" y2="425.6"/>
<line x1="192.46" y1="406.0" x2="192.46" y2="425.6"/>
<line x1="196.17" y1="405.6" x2="196.17" y2="425.6"/>
<line x1="199.88" y1="404.6" x2="199.88" y2="425.6"/>
<line x1="203.59" y1="406.4" x2="203.59" y2="425.6"/>
<line x1="207.30" y1="408.0" x2="207.30" y2="425.6"/>
<line x1="211.00" y1="409.0" x2="211.00" y2="425.6"/>
<line x1="214.71" y1="408.0" x2="214.71" y2="425.6"/>
<line x1="218.42" y1="409.0" x2="218.42" y2="425.6"/>
<line x1="222.13" y1="415.0" x2="222.13" y2="425.6"/>
<line x1="225.84" y1="415.0" x2="225.84" y2="425.6"/>
<line x1="229.55" y1="415.0" x2="229.55" y2="425.6"/>
<line x1="233.26" y1="415.6" x2="233.26" y2="425.6"/>
<line x1="236.97" y1="417.6" x2="236.97" y2="425.6"/>
<line x1="240.68" y1="420.0" x2="240.68" y2="425.6"/>
<line x1="244.39" y1="416.4" x2="244.39" y2="425.6"/>
<line x1="248.09" y1="412.4" x2="248.09" y2="425.6"/>
<line x1="251.80" y1="410.4" x2="251.80" y2="425.6"/>
<line x1="255.51" y1="408.0" x2="255.51" y2="425.6"/>
<line x1="259.22" y1="406.0" x2="259.22" y2="425.6"/>
<line x1="262.93" y1="408.0" x2="262.93" y2="425.6"/>
<line x1="266.64" y1="410.0" x2="266.64" y2="425.6"/>
<line x1="270.35" y1="411.6" x2="270.35" y2="425.6"/>
<line x1="274.06" y1="415.0" x2="274.06" y2="425.6"/>
<line x1="277.77" y1="419.0" x2="277.77" y2="425.6"/>
<line x1="281.48" y1="421.0" x2="281.48" y2="425.6"/>
<line x1="285.18" y1="422.4" x2="285.18" y2="425.6"/>
<line x1="288.89" y1="425.6" x2="288.89" y2="426.6"/>
<line x1="292.60" y1="425.6" x2="292.60" y2="428.0"/>
<line x1="296.31" y1="425.6" x2="296.31" y2="429.6"/>
<line x1="300.02" y1="425.6" x2="300.02" y2="429.0"/>
<line x1="303.73" y1="425.6" x2="303.73" y2="429.0"/>
<line x1="307.44" y1="425.6" x2="307.44" y2="433.0"/>
<line x1="311.15" y1="425.6" x2="311.15" y2="431.6"/>
<line x1="314.86" y1="425.6" x2="314.86" y2="426.6"/>
<line x1="318.56" y1="425.0" x2="318.56" y2="426.2"/>
<line x1="322.27" y1="424.6" x2="322.27" y2="425.6"/>
<line x1="325.98" y1="424.6" x2="325.98" y2="425.6"/>
<line x1="329.69" y1="424.6" x2="329.69" y2="425.6"/>
<line x1="333.40" y1="425.0" x2="333.40" y2="426.2"/>
<line x1="337.11" y1="425.6" x2="337.11" y2="429.6"/>
<line x1="340.82" y1="425.6" x2="340.82" y2="431.6"/>
<line x1="344.53" y1="425.6" x2="344.53" y2="433.0"/>
<line x1="348.24" y1="425.6" x2="348.24" y2="433.6"/>
<line x1="351.95" y1="425.6" x2="351.95" y2="431.0"/>
<line x1="355.66" y1="425.6" x2="355.66" y2="429.0"/>
<line x1="359.36" y1="425.6" x2="359.36" y2="429.6"/>
<line x1="363.07" y1="425.6" x2="363.07" y2="431.8"/>
<line x1="366.78" y1="425.6" x2="366.78" y2="432.4"/>
<line x1="370.49" y1="425.6" x2="370.49" y2="430.2"/>
<line x1="374.20" y1="425.6" x2="374.20" y2="440.6"/>
<line x1="377.91" y1="425.6" x2="377.91" y2="449.0"/>
<line x1="381.62" y1="425.6" x2="381.62" y2="453.0"/>
<line x1="385.33" y1="425.6" x2="385.33" y2="455.0"/>
<line x1="389.04" y1="425.6" x2="389.04" y2="455.0"/>
<line x1="392.75" y1="425.6" x2="392.75" y2="451.4"/>
<line x1="396.45" y1="425.6" x2="396.45" y2="448.0"/>
<line x1="400.16" y1="425.6" x2="400.16" y2="443.0"/>
<line x1="403.87" y1="425.6" x2="403.87" y2="437.4"/>
<line x1="407.58" y1="425.6" x2="407.58" y2="434.0"/>
<line x1="411.29" y1="425.6" x2="411.29" y2="430.8"/>
<line x1="415.00" y1="425.0" x2="415.00" y2="426.2"/>
<line x1="418.71" y1="417.4" x2="418.71" y2="425.6"/>
<line x1="422.42" y1="414.6" x2="422.42" y2="425.6"/>
<line x1="426.13" y1="412.6" x2="426.13" y2="425.6"/>
<line x1="429.84" y1="412.3" x2="429.84" y2="425.6"/>
<line x1="433.54" y1="414.1" x2="433.54" y2="425.6"/>
<line x1="437.25" y1="415.4" x2="437.25" y2="425.6"/>
<line x1="440.96" y1="415.0" x2="440.96" y2="425.6"/>
<line x1="444.67" y1="414.6" x2="444.67" y2="425.6"/>
<line x1="448.38" y1="414.2" x2="448.38" y2="425.6"/>
<line x1="452.09" y1="413.4" x2="452.09" y2="425.6"/>
<line x1="455.80" y1="413.0" x2="455.80" y2="425.6"/>
<line x1="459.51" y1="414.8" x2="459.51" y2="425.6"/>
<line x1="463.22" y1="421.5" x2="463.22" y2="425.6"/>
<line x1="466.93" y1="425.6" x2="466.93" y2="432.0"/>
<line x1="470.63" y1="425.6" x2="470.63" y2="437.6"/>
<line x1="474.34" y1="425.6" x2="474.34" y2="438.9"/>
<line x1="478.05" y1="425.6" x2="478.05" y2="440.0"/>
<line x1="481.76" y1="425.6" x2="481.76" y2="439.2"/>
<line x1="485.47" y1="425.6" x2="485.47" y2="434.4"/>
<line x1="489.18" y1="425.6" x2="489.18" y2="431.4"/>
<line x1="492.89" y1="425.6" x2="492.89" y2="429.6"/>
<line x1="496.60" y1="425.6" x2="496.60" y2="429.0"/>
<line x1="500.31" y1="425.6" x2="500.31" y2="428.3"/>
<line x1="504.02" y1="425.6" x2="504.02" y2="426.6"/>
<line x1="507.72" y1="425.0" x2="507.72" y2="426.2"/>
<line x1="511.43" y1="424.0" x2="511.43" y2="425.6"/>
<line x1="515.14" y1="425.0" x2="515.14" y2="426.2"/>
<line x1="518.85" y1="425.6" x2="518.85" y2="427.6"/>
<line x1="522.56" y1="425.6" x2="522.56" y2="428.1"/>
</g>
<polyline points="3.0,390.0 12.0,391.6 20.0,393.6 28.0,391.0 36.0,386.4 43.0,383.0 52.0,385.0 60.0,388.5 68.0,394.0 76.0,402.5 84.0,414.5 93.0,423.0 103.0,428.0 112.0,438.0 120.0,447.0 128.0,455.0 136.0,461.0 146.0,465.0 156.0,468.0 164.0,469.4 170.0,466.0 178.0,457.0 186.0,445.0 194.0,436.0 202.0,424.0 210.0,415.0 220.0,406.0 230.0,398.0 240.0,392.4 248.0,387.0 256.0,376.0 266.0,365.0 276.0,358.0 284.0,355.6 292.0,356.0 300.0,359.4 308.0,363.6 316.0,365.4 324.0,364.0 330.0,363.4 340.0,368.0 350.0,373.0 360.0,377.0 372.0,383.0 378.0,392.0 386.0,408.0 396.0,426.0 404.0,435.0 410.0,438.6 413.0,438.8 420.0,434.0 430.0,426.0 440.0,418.0 450.0,410.0 460.0,404.5 464.0,403.6 470.0,409.0 480.0,418.5 488.0,423.4 493.6,425.5 500.0,427.0 506.4,428.0 512.8,427.0 519.2,428.7" fill="none" stroke="#ff3030" stroke-width="1.1" stroke-dasharray="3,2.4"/>
<polyline points="3.0,381.0 11.0,391.0 18.4,399.0 24.0,392.0 30.0,383.0 36.0,375.0 40.0,375.0 44.0,386.0 54.0,390.0 60.0,393.8 67.0,400.0 71.0,411.0 78.0,423.0 85.0,436.0 92.0,435.0 99.0,434.0 107.0,439.0 113.0,451.0 121.0,466.0 129.0,474.0 140.0,467.4 145.0,471.4 151.0,470.6 155.0,476.0 162.0,469.0 170.0,459.0 176.0,445.0 182.0,436.0 188.0,425.0 194.0,419.0 200.0,407.5 208.0,401.0 217.0,390.4 222.0,393.6 231.0,386.4 240.0,387.4 248.0,373.0 258.0,356.0 265.0,349.6 271.0,347.4 278.0,352.0 284.0,353.0 289.0,359.0 296.0,363.0 303.0,365.4 308.0,371.6 311.0,371.0 317.0,367.0 322.0,363.6 329.0,361.6 336.0,370.0 344.0,378.0 348.0,380.0 355.0,378.4 363.0,384.4 369.5,387.4 374.0,401.5 380.0,422.0 386.0,438.0 392.0,447.0 399.0,450.4 406.0,446.0 412.0,444.0 418.0,430.0 424.0,419.0 430.0,413.0 437.0,411.6 446.0,404.0 454.0,396.0 459.0,394.0 464.0,402.0 468.0,414.0 473.6,426.0 478.4,432.9 481.6,433.5 488.0,430.3 493.6,430.0 500.0,431.3 504.0,428.0 508.0,428.0 511.5,426.0 516.0,429.2 521.6,432.4" fill="none" stroke="#3030ff" stroke-width="1.05" stroke-linejoin="round"/>
<line x1="277" y1="344.4" x2="490" y2="387.6" stroke="#dc143c" stroke-width="2"/>
<!-- top marker -->
<path d="M524.6 39.5 L533.2 39.5 L528.9 43.9 Z" fill="#71849b"/>
<!-- title text -->
<path d="M5.4 44.2 L12 44.2 L8.7 48 Z" fill="#111"/>
<text class="tt" x="17.0" y="49.0" textLength="51.0" lengthAdjust="spacingAndGlyphs">CrudeOIL,H4</text>
<text class="tt" x="74.5" y="49.0" textLength="26.0" lengthAdjust="spacingAndGlyphs">56.050</text>
<text class="tt" x="103.2" y="49.0" textLength="26.0" lengthAdjust="spacingAndGlyphs">56.100</text>
<text class="tt" x="131.8" y="49.0" textLength="26.0" lengthAdjust="spacingAndGlyphs">56.050</text>
<text class="tt" x="160.4" y="49.0" textLength="26.0" lengthAdjust="spacingAndGlyphs">56.080</text>
<text class="tt" x="7.0" y="351.2" textLength="60.5" lengthAdjust="spacingAndGlyphs">MACD(12,26,9)</text>
<text class="tt" x="70.8" y="351.2" textLength="28.0" lengthAdjust="spacingAndGlyphs">-0.0809</text>
<text class="tt" x="102.0" y="351.2" textLength="28.0" lengthAdjust="spacingAndGlyphs">-0.0415</text>
<text class="tt" x="133.8" y="351.2" textLength="28.2" lengthAdjust="spacingAndGlyphs">-0.0394</text>
<g stroke="#111" stroke-width="1" shape-rendering="crispEdges">
<line x1="662" y1="57.5" x2="665" y2="57.5"/>
<line x1="662" y1="85.5" x2="665" y2="85.5"/>
<line x1="662" y1="113.5" x2="665" y2="113.5"/>
<line x1="662" y1="141.5" x2="665" y2="141.5"/>
<line x1="662" y1="169.5" x2="665" y2="169.5"/>
<line x1="662" y1="196.5" x2="665" y2="196.5"/>
<line x1="662" y1="224.5" x2="665" y2="224.5"/>
<line x1="662" y1="252.5" x2="665" y2="252.5"/>
<line x1="662" y1="280.5" x2="665" y2="280.5"/>
<line x1="662" y1="308.5" x2="665" y2="308.5"/>
<line x1="662" y1="336.5" x2="665" y2="336.5"/>
<line x1="662" y1="425.5" x2="665" y2="425.5"/><line x1="662" y1="477.5" x2="665" y2="477.5"/>
</g>
<text class="ax" x="667.6" y="60.9" textLength="26.0" lengthAdjust="spacingAndGlyphs">57.770</text>
<text class="ax" x="667.6" y="88.8" textLength="26.0" lengthAdjust="spacingAndGlyphs">57.110</text>
<text class="ax" x="667.6" y="116.6" textLength="26.0" lengthAdjust="spacingAndGlyphs">56.450</text>
<text class="ax" x="667.6" y="144.4" textLength="26.0" lengthAdjust="spacingAndGlyphs">55.770</text>
<text class="ax" x="667.6" y="172.3" textLength="26.0" lengthAdjust="spacingAndGlyphs">55.110</text>
<text class="ax" x="667.6" y="200.1" textLength="26.0" lengthAdjust="spacingAndGlyphs">54.430</text>
<text class="ax" x="667.6" y="228.0" textLength="26.0" lengthAdjust="spacingAndGlyphs">53.770</text>
<text class="ax" x="667.6" y="255.9" textLength="26.0" lengthAdjust="spacingAndGlyphs">53.110</text>
<text class="ax" x="667.6" y="283.7" textLength="26.0" lengthAdjust="spacingAndGlyphs">52.430</text>
<text class="ax" x="667.6" y="311.6" textLength="26.0" lengthAdjust="spacingAndGlyphs">51.770</text>
<text class="ax" x="667.6" y="339.4" textLength="26.0" lengthAdjust="spacingAndGlyphs">51.110</text>
<text class="ax" x="666.2" y="349.2" textLength="25.8" lengthAdjust="spacingAndGlyphs">0.8359</text>
<text class="ax" x="666.3" y="429.0" textLength="16.2" lengthAdjust="spacingAndGlyphs">0.00</text>
<text class="ax" x="666.3" y="481.0" textLength="30.6" lengthAdjust="spacingAndGlyphs">-0.5706</text>
<g shape-rendering="crispEdges">
<rect x="664" y="63" width="33" height="9" fill="#1414ff"/>
<rect x="664" y="124" width="33" height="9" fill="#000"/>
<rect x="664" y="142" width="33" height="9" fill="#1414ff"/>
<rect x="664" y="198" width="33" height="9" fill="#1414ff"/>
<rect x="664" y="304" width="33" height="9" fill="#1414ff"/>
</g>
<text class="lb" x="667.6" y="70.7" textLength="26.0" lengthAdjust="spacingAndGlyphs">57.516</text>
<text class="lb" x="667.6" y="131.7" textLength="26.0" lengthAdjust="spacingAndGlyphs">56.080</text>
<text class="lb" x="667.6" y="149.7" textLength="26.0" lengthAdjust="spacingAndGlyphs">55.627</text>
<text class="lb" x="667.6" y="205.7" textLength="26.0" lengthAdjust="spacingAndGlyphs">54.304</text>
<text class="lb" x="667.6" y="311.7" textLength="26.0" lengthAdjust="spacingAndGlyphs">51.757</text>
<g stroke="#111" stroke-width="1" shape-rendering="crispEdges">
<line x1="2.5" y1="483" x2="2.5" y2="487"/>
<line x1="62.5" y1="483" x2="62.5" y2="487"/>
<line x1="121.5" y1="483" x2="121.5" y2="487"/>
<line x1="181.5" y1="483" x2="181.5" y2="487"/>
<line x1="240.5" y1="483" x2="240.5" y2="487"/>
<line x1="299.5" y1="483" x2="299.5" y2="487"/>
<line x1="359.5" y1="483" x2="359.5" y2="487"/>
<line x1="418.5" y1="483" x2="418.5" y2="487"/>
<line x1="477.5" y1="483" x2="477.5" y2="487"/>
</g>
<text class="ax" x="2.0" y="493.2" textLength="46.0" lengthAdjust="spacingAndGlyphs">31 Jan 2019</text>
<text class="ax" x="61.4" y="493.2" textLength="46.0" lengthAdjust="spacingAndGlyphs">5 Feb 08:00</text>
<text class="ax" x="120.7" y="493.2" textLength="46.0" lengthAdjust="spacingAndGlyphs">8 Feb 00:00</text>
<text class="ax" x="180.1" y="493.2" textLength="50.3" lengthAdjust="spacingAndGlyphs">12 Feb 16:00</text>
<text class="ax" x="239.5" y="493.2" textLength="50.3" lengthAdjust="spacingAndGlyphs">15 Feb 08:00</text>
<text class="ax" x="298.8" y="493.2" textLength="50.3" lengthAdjust="spacingAndGlyphs">20 Feb 00:00</text>
<text class="ax" x="358.2" y="493.2" textLength="50.3" lengthAdjust="spacingAndGlyphs">22 Feb 16:00</text>
<text class="ax" x="417.6" y="493.2" textLength="50.3" lengthAdjust="spacingAndGlyphs">27 Feb 12:00</text>
<text class="ax" x="477.0" y="493.2" textLength="46.0" lengthAdjust="spacingAndGlyphs">4 Mar 04:00</text>
</svg>
</body></html>
